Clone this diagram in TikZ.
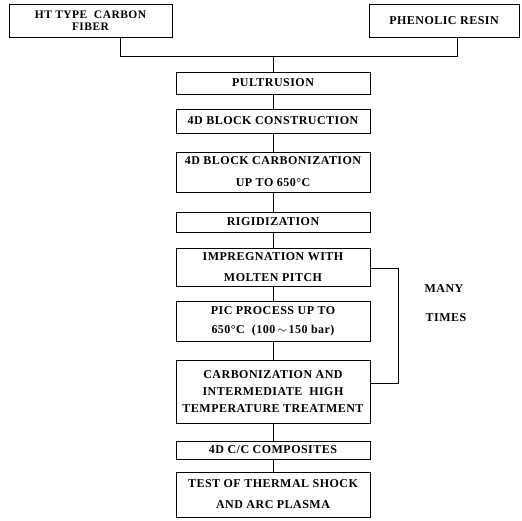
\documentclass[tikz,border=0pt]{standalone}
\usepackage{fontspec}
\setmainfont{Liberation Serif}
\newfontfamily\lsfont[LetterSpace=4.0]{Liberation Serif}
\begin{document}
\begin{tikzpicture}[x=1pt,y=-1pt,
  box/.style={draw, line width=0.8pt, align=center, inner sep=0pt,
    font=\lsfont\bfseries\fontsize{12}{13}\selectfont},
  mid/.style={box, minimum width=194pt},
  lbl/.style={font=\lsfont\bfseries\fontsize{12}{13}\selectfont},
  ln/.style={line width=0.8pt}]
\useasboundingbox (0,0) rectangle (522,520);
\node[box, minimum width=163pt, minimum height=33pt, font=\lsfont\bfseries\fontsize{11.5}{12}\selectfont] (ht) at (90.5,21) {HT TYPE\ \ CARBON\\FIBER};
\node[box, minimum width=150pt, minimum height=33pt] (ph) at (444,21) {PHENOLIC RESIN};
\node[mid, minimum height=22pt] (pul) at (273,83) {PULTRUSION};
\node[mid, minimum height=24pt] (blk) at (273,121) {4D BLOCK CONSTRUCTION};
\node[mid, minimum height=40pt] (cb1) at (273,172) {4D BLOCK CARBONIZATION\\[9pt]UP TO 650°C};
\node[mid, minimum height=20pt] (rig) at (273,222) {RIGIDIZATION};
\node[mid, minimum height=38pt] (imp) at (273,267.5) {IMPREGNATION WITH\\[8pt]MOLTEN PITCH};
\node[mid, minimum height=40pt] (pic) at (273,321) {PIC PROCESS UP TO\\[6pt]650°C\ \ (100{\,$\sim$\,}150 bar)};
\node[mid, minimum height=63pt] (cb2) at (273,391.5) {CARBONIZATION AND\\[4pt]INTERMEDIATE\ \ HIGH\\[4pt]TEMPERATURE TREATMENT};
\node[mid, minimum height=18pt] (cc) at (273,450) {4D C/C COMPOSITES};
\node[mid, minimum height=45pt] (tst) at (273,494.5) {TEST OF THERMAL SHOCK\\[8pt]AND ARC PLASMA};
\node[lbl] (many) at (444,289) {MANY};
\node[lbl] (times) at (446,318) {TIMES};
\coordinate (jl) at (120,56);
\coordinate (jr) at (457,56);
\coordinate (jc) at (273,56);
\coordinate (lt) at (398,268);
\coordinate (lb) at (398,383);
\draw[ln] (ht.south -| jl) -- (jl) -- (jr) -- (ph.south -| jr);
\draw[ln] (jc) -- (pul);
\draw[ln] (pul) -- (blk);
\draw[ln] (blk) -- (cb1);
\draw[ln] (cb1) -- (rig);
\draw[ln] (rig) -- (imp);
\draw[ln] (imp) -- (pic);
\draw[ln] (pic) -- (cb2);
\draw[ln] (cb2) -- (cc);
\draw[ln] (cc) -- (tst);
\draw[ln] (imp.east |- lt) -- (lt) -- (lb) -- (cb2.east |- lb);
\end{tikzpicture}
\end{document}
